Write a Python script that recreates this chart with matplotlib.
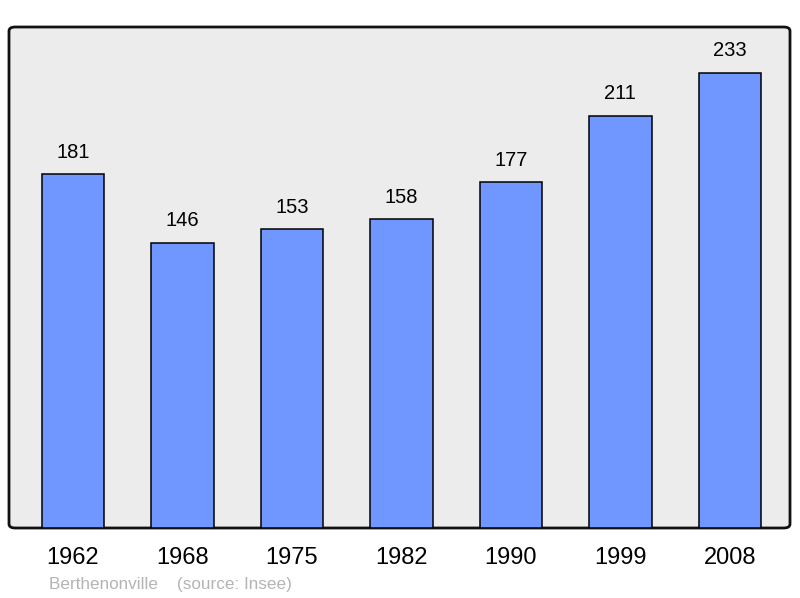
import matplotlib
matplotlib.use("Agg")
import matplotlib.pyplot as plt
from matplotlib.patches import FancyBboxPatch

years = ["1962", "1968", "1975", "1982", "1990", "1999", "2008"]
population = [181, 146, 153, 158, 177, 211, 233]

plt.rcParams['font.family'] = ['Liberation Sans', 'DejaVu Sans']

W, H = 800, 598
fig = plt.figure(figsize=(8, 5.98), dpi=100)
left, right, top, bottom = 9, 790, 27, 528
ax = fig.add_axes([left / W, 1 - bottom / H, (right - left) / W, (bottom - top) / H])
ax.set_facecolor('none')

frame = FancyBboxPatch((0, 0), 1, 1,
                       boxstyle="round,pad=0,rounding_size=0.008", transform=ax.transAxes,
                       facecolor='#ececec', edgecolor='#111111', linewidth=2, zorder=0,
                       clip_on=False)
ax.add_patch(frame)

x = list(range(len(years)))
ax.bar(x, population, width=0.57, color='#7096ff', edgecolor='black', linewidth=1.1, zorder=2)
for xi, v in zip(x, population):
    ax.annotate(str(v), (xi, v), xytext=(0, 9), textcoords='offset points',
                ha='center', va='bottom', fontsize=14.5, color='black')

ax.set_xlim(-0.585, 6.55)
ax.set_ylim(0, 256.5)
ax.set_yticks([])
ax.set_xticks(x)
ax.set_xticklabels(years, fontsize=17)
ax.tick_params(axis='x', length=0, pad=14)
for s in ax.spines.values():
    s.set_visible(False)

fig.text(49 / W, 1 - 584 / H, "Berthenonville    (source: Insee)", fontsize=12.3,
         color='#b4b4b4', ha='left', va='center')

fig.savefig("out.png", dpi=100)
